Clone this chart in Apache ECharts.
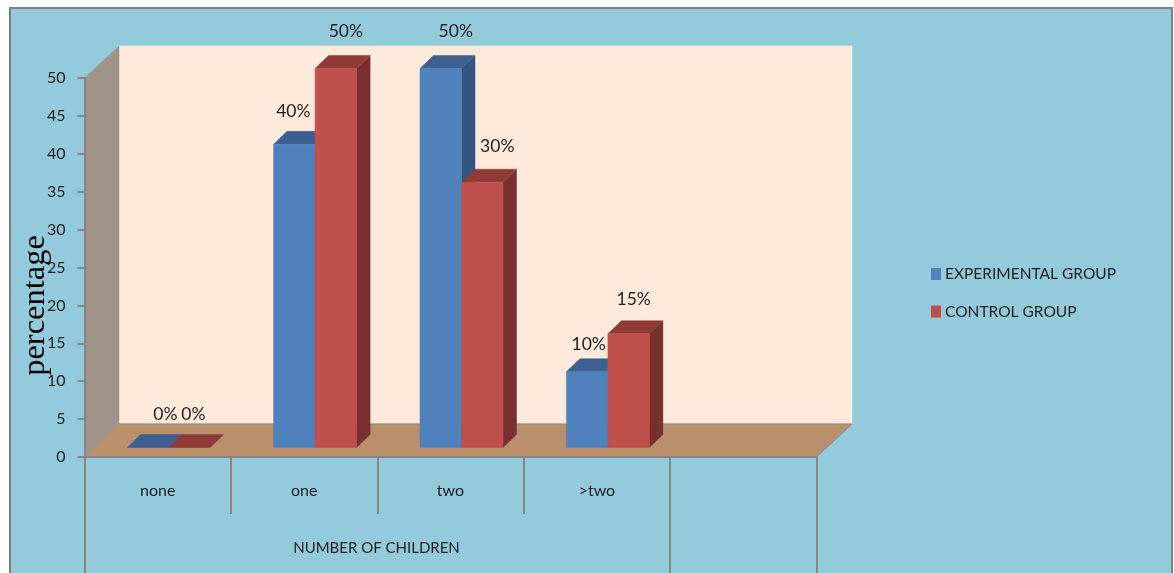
<!DOCTYPE html>
<html><head><meta charset="utf-8">
<style>html,body{margin:0;padding:0;background:#fff}#chart{width:1174px;height:573px}</style>
<script src="https://cdn.jsdelivr.net/npm/echarts@6/dist/echarts.min.js"></script>
</head><body><div id="chart"></div>
<script>
const categories = ['none', 'one', 'two', '>two', ''];
const seriesNames = ['EXPERIMENTAL GROUP', 'CONTROL GROUP'];
const experimental = [0, 40, 50, 10, null];
const control = [0, 50, 35, 15, null];
const experimentalLabels = ['0%', '40%', '50%', '10%', ''];
const controlLabels = ['0%', '50%', '30%', '15%', ''];
const yTicks = { min: 0, max: 50, interval: 5 };
const xTitle = 'NUMBER OF CHILDREN';
const yTitle = 'percentage';

// style of the 3D look
const FONT = 'Lato, "Open Sans", sans-serif';
const TEXT = '#1f1f1f', GREY = '#868686';
const WALL = { dx: 34.5, dxRight: 35.5, dyTop: 32, dyBottom: 33, back: '#FDEADA', side: '#A0948A', floor: '#BA8F6C' };
const BAR = { shiftX: 11, shiftY: 9.5, width: 41.5, dx: 13.5, dy: 13 };
const PAINT = [
  { front: '#4F81BD', top: '#3C6190', side: '#32547F' },
  { front: '#C0504D', top: '#8F3A37', side: '#78302E' }
];
const LABEL_NUDGE = [
  [[17.5, -33], [-1, -33], [15, -37], [1.5, -27]],
  [[4, -33], [10, -37], [15, -36], [5, -34]]
];

function poly(points, fill) {
  return { type: 'polygon', shape: { points }, style: { fill, stroke: fill, lineWidth: 0.5 }, silent: true };
}
function line(x1, y1, x2, y2, width, color) {
  return { type: 'line', shape: { x1, y1, x2, y2 }, style: { stroke: color || GREY, lineWidth: width || 2 }, silent: true };
}

function renderRoom(params, api) {
  const g = params.coordSys, d = WALL;
  const L = g.x, T = g.y, R = g.x + g.width, B = g.y + g.height;
  const catW = g.width / categories.length;
  const sep = Math.round(L + catW * 4);
  return { type: 'group', children: [
    poly([[L + d.dx, T - d.dyTop], [R + d.dxRight, T - d.dyTop], [R + d.dxRight, B - d.dyBottom], [L + d.dx, B - d.dyBottom]], d.back),
    poly([[L, T], [L + d.dx, T - d.dyTop], [L + d.dx, B - d.dyBottom], [L, B]], d.side),
    poly([[L, B], [L + d.dx, B - d.dyBottom], [R + d.dxRight, B - d.dyBottom], [R, B]], d.floor),
    line(L + d.dx, B - d.dyBottom, R + d.dxRight, B - d.dyBottom, 1, '#8a8f96'),
    line(R, B, R + d.dxRight, B - d.dyBottom, 1, '#8a8f96'),
    line(Math.round(L), B, Math.round(L), 573, 2),
    line(sep, B, sep, 573, 2),
    line(Math.round(R), B, Math.round(R), 573, 2)
  ] };
}

function makeBarRenderer(seriesIndex, labels) {
  return function (params, api) {
    const i = api.value(0), v = api.value(1);
    const base = api.coord([i, 0]);
    const topPt = api.coord([i, v]);
    const paint = PAINT[seriesIndex];
    const x0 = base[0] + BAR.shiftX + (seriesIndex - 1) * BAR.width;
    const x1 = x0 + BAR.width;
    const yB = base[1] - BAR.shiftY, yT = topPt[1] - BAR.shiftY;
    const nudge = LABEL_NUDGE[seriesIndex][i];
    const children = [];
    if (v > 0) children.push(poly([[x1, yT], [x1 + BAR.dx, yT - BAR.dy], [x1 + BAR.dx, yB - BAR.dy], [x1, yB]], paint.side));
    children.push(poly([[x0, yT], [x0 + BAR.dx, yT - BAR.dy], [x1 + BAR.dx, yT - BAR.dy], [x1, yT]], paint.top));
    if (v > 0) children.push(poly([[x0, yT], [x1, yT], [x1, yB], [x0, yB]], paint.front));
    children.push({
      type: 'text', silent: true, z2: 10,
      style: {
        text: labels[i], x: (x0 + x1) / 2 + nudge[0], y: yT + nudge[1],
        align: 'center', verticalAlign: 'middle',
        font: '17.5px ' + FONT, fill: TEXT
      }
    });
    return { type: 'group', children };
  };
}

function rows(values) {
  return values.map((v, i) => [i, v]).filter(r => r[1] !== null);
}

const chart = echarts.init(document.getElementById('chart'), null, { renderer: 'canvas' });
chart.setOption({
  animation: false,
  backgroundColor: '#fff',
  textStyle: { fontFamily: FONT },
  graphic: [{
    type: 'rect', z: -10, silent: true,
    shape: { x: 10, y: 8, width: 1162, height: 580 },
    style: { fill: '#93CBDD', stroke: '#808080', lineWidth: 2 }
  }],
  grid: { left: 84.5, top: 78, width: 732, height: 379, containLabel: false, outerBoundsMode: 'none' },
  xAxis: {
    type: 'category', data: categories, z: 3,
    name: xTitle, nameLocation: 'middle', nameGap: 84, nameMoveOverlap: false,
    nameTextStyle: { fontSize: 15, color: TEXT, fontFamily: FONT, padding: [0, 148, 0, 0] },
    axisLine: { show: true, lineStyle: { color: GREY, width: 2 } },
    axisTick: { show: true, length: 57, alignWithLabel: false, lineStyle: { color: GREY, width: 2 } },
    axisLabel: { fontSize: 16, color: TEXT, margin: 26, fontFamily: FONT, interval: 0 },
    splitLine: { show: false }
  },
  yAxis: {
    type: 'value', min: yTicks.min, max: yTicks.max, interval: yTicks.interval, z: 3,
    name: yTitle, nameLocation: 'middle', nameGap: 33, nameRotate: 90, nameMoveOverlap: false,
    nameTextStyle: { fontSize: 32.5, color: '#000', fontFamily: '"Liberation Serif", serif', padding: [0, 76, 0, 0] },
    axisLine: { show: true, lineStyle: { color: GREY, width: 2 } },
    axisTick: { show: true, length: 7, lineStyle: { color: GREY, width: 2 } },
    axisLabel: { fontSize: 16, color: TEXT, margin: 19, fontFamily: FONT, padding: [4, 0, 0, 0] },
    splitLine: { show: false }
  },
  legend: {
    left: 926, top: 261, orient: 'vertical', itemWidth: 10, itemHeight: 12, itemGap: 21.5,
    icon: 'rect', selectedMode: false,
    textStyle: { fontSize: 15.5, color: TEXT, fontFamily: FONT, padding: [0, 0, 0, -1] },
    data: seriesNames
  },
  series: [
    { type: 'custom', name: 'room', z: 0, silent: true, clip: false, data: [[0, 0]], renderItem: renderRoom, tooltip: { show: false } },
    { type: 'custom', name: seriesNames[0], z: 5, clip: false, itemStyle: { color: PAINT[0].front },
      encode: { x: 0, y: 1 }, data: rows(experimental), renderItem: makeBarRenderer(0, experimentalLabels) },
    { type: 'custom', name: seriesNames[1], z: 6, clip: false, itemStyle: { color: PAINT[1].front },
      encode: { x: 0, y: 1 }, data: rows(control), renderItem: makeBarRenderer(1, controlLabels) }
  ]
});
</script></body></html>
